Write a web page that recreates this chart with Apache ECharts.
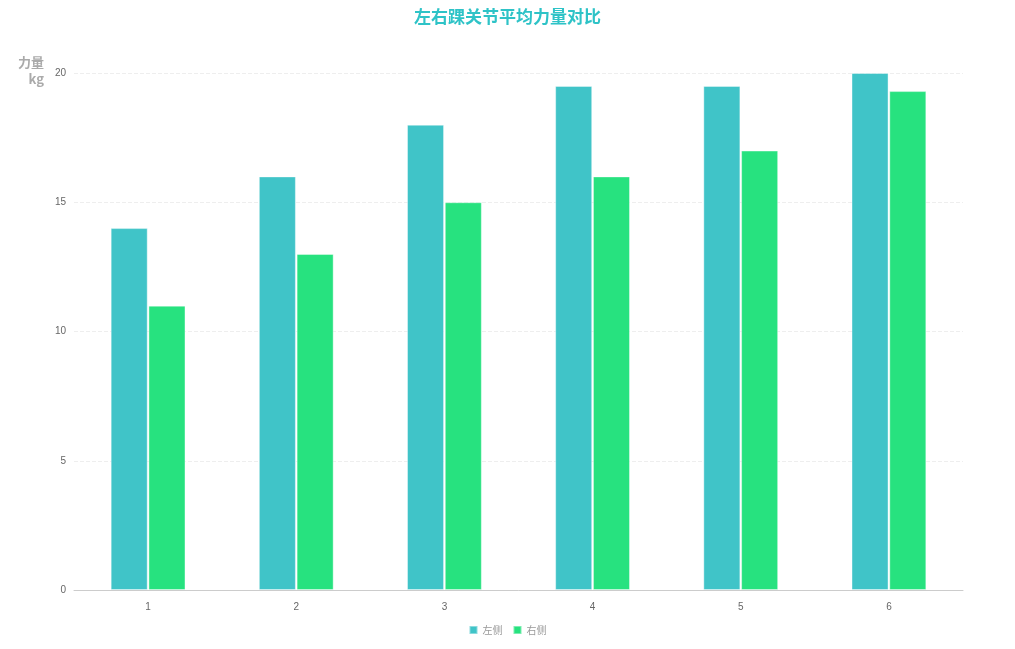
<!DOCTYPE html>
<html><head><meta charset="utf-8">
<script src="https://cdn.jsdelivr.net/npm/echarts@6/dist/echarts.min.js"></script>
<style>html,body{margin:0;padding:0;background:#fff}#c{width:1015px;height:649px}</style>
</head><body><div id="c"></div>
<script>
const categories = ['1','2','3','4','5','6'];
const leftValues = [14, 16, 18, 19.5, 19.5, 20];
const rightValues = [11, 13, 15, 16, 17, 19.3];
const seriesNames = ['左侧', '右侧'];

const chart = echarts.init(document.getElementById('c'));
chart.setOption({
  backgroundColor: '#fff',
  title: {
    text: '左右踝关节平均力量对比',
    left: 'center', top: 3,
    textStyle: { color: '#2ec3c7', fontSize: 17, fontWeight: 'bold', fontFamily: 'Noto Sans CJK SC' }
  },
  legend: {
    bottom: 9, left: 'center',
    itemWidth: 8, itemHeight: 8, itemGap: 10,
    icon: 'rect',
    textStyle: { color: '#999', fontSize: 10, fontFamily: 'Noto Sans CJK SC' },
    data: seriesNames
  },
  grid: { left: 74, right: 52, top: 73, bottom: 59 },
  xAxis: {
    type: 'category', data: categories,
    axisLine: { lineStyle: { color: '#ccc' } },
    axisTick: { alignWithLabel: true, lineStyle: { color: '#ccc' } },
    axisLabel: { color: '#666', fontSize: 10, margin: 12 }
  },
  yAxis: {
    type: 'value', min: 0, max: 20, interval: 5,
    name: '力量\nkg',
    nameLocation: 'end',
    nameGap: -15,
    nameMoveOverlap: false,
    nameTextStyle: { color: '#aaa', fontSize: 13, fontWeight: 'bold', align: 'right', padding: [0, 30, 0, 0], fontFamily: 'Noto Sans CJK SC', lineHeight: 17 },
    axisLine: { show: false },
    axisTick: { show: false },
    axisLabel: { color: '#666', fontSize: 10, margin: 8 },
    splitLine: { lineStyle: { color: '#eee', type: 'dashed' } }
  },
  series: [
    { name: seriesNames[0], type: 'bar', data: leftValues, barWidth: '25%', barGap: '2%',
      itemStyle: { color: '#40c4c8', borderColor: 'rgba(255,255,255,0.4)', borderWidth: 1 } },
    { name: seriesNames[1], type: 'bar', data: rightValues, barWidth: '25%', barGap: '2%',
      itemStyle: { color: '#27e27f', borderColor: 'rgba(255,255,255,0.4)', borderWidth: 1 } }
  ]
});
</script></body></html>
